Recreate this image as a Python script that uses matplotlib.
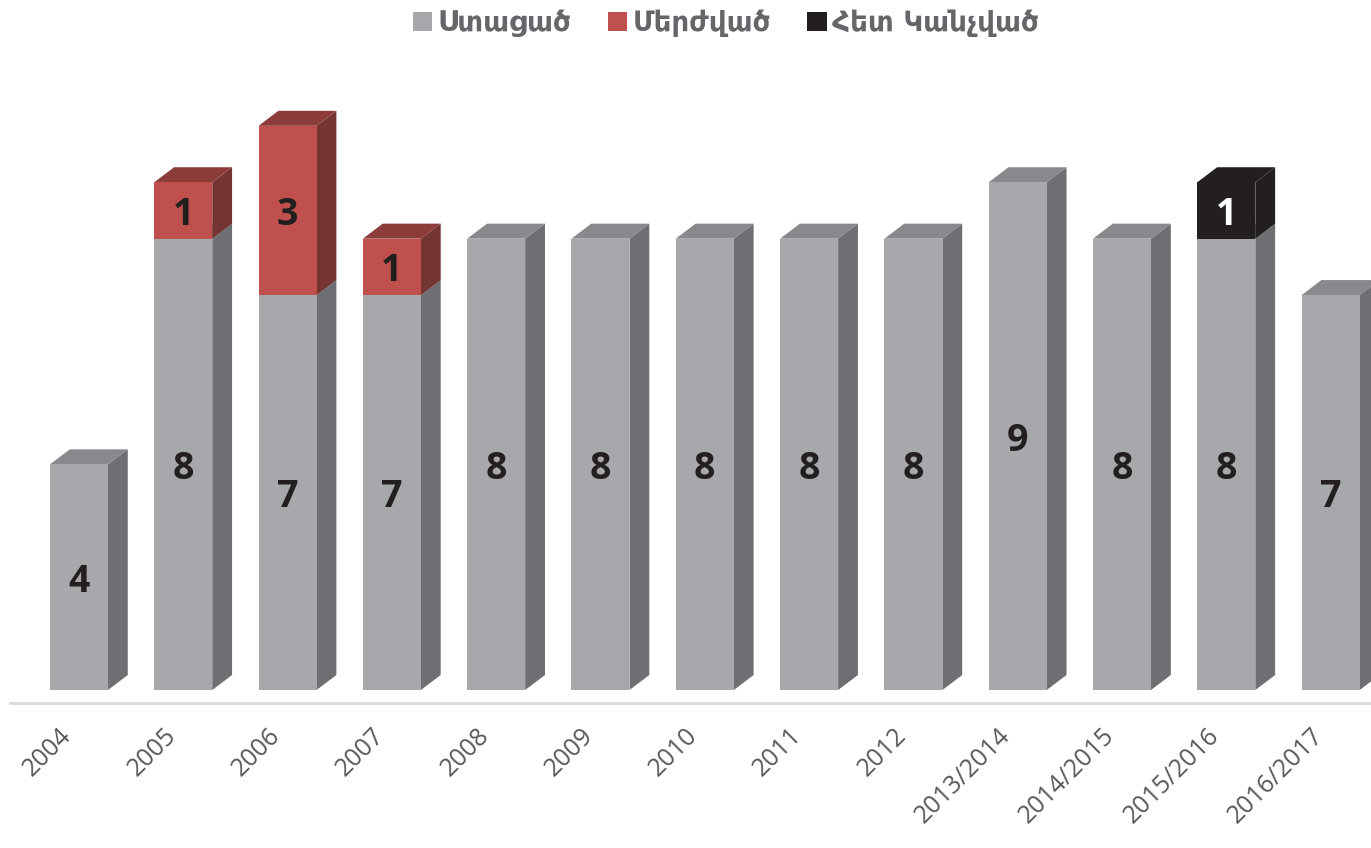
import matplotlib
matplotlib.use("Agg")
import matplotlib.pyplot as plt
import matplotlib.transforms as mtransforms
from matplotlib.patches import Polygon, Patch
import numpy as np

categories = ['2004', '2005', '2006', '2007', '2008', '2009', '2010', '2011', '2012',
              '2013/2014', '2014/2015', '2015/2016', '2016/2017']
received = [4, 8, 7, 7, 8, 8, 8, 8, 8, 9, 8, 8, 7]
rejected = [0, 1, 3, 1, 0, 0, 0, 0, 0, 0, 0, 0, 0]
withdrawn = [0, 0, 0, 0, 0, 0, 0, 0, 0, 0, 0, 1, 0]
series_names = ['Ստացած', 'Մերժված', 'Հետ Կանչված']

# front, side, top colours for each series
colors = [('#a7a8ac', '#6e6f73', '#88898d'),
          ('#c0504d', '#733432', '#8c3d3a'),
          ('#231f20', '#231f20', '#231f20')]
label_colors = ['#231f20', '#231f20', '#ffffff']

W = 0.556      # front face width
DX = 0.19      # depth in x
DY = 0.266     # depth in y

fig = plt.figure(figsize=(13.71, 8.48), dpi=100)
ax = fig.add_axes([0, (848 - 703) / 848, 1, 703 / 848])
ax.set_xlim(-0.757, 12.387)
ax.set_ylim(-0.23, 12.23)

x = np.arange(len(categories))
bottoms = np.zeros(len(categories))
for s, vals in enumerate([received, rejected, withdrawn]):
    vals = np.array(vals, dtype=float)
    front, side, top = colors[s]
    ax.bar(x, vals, width=W, bottom=bottoms, color=front, linewidth=0, zorder=3)
    for i in range(len(x)):
        if vals[i] == 0:
            continue
        b = bottoms[i]
        t = b + vals[i]
        r = x[i] + W / 2
        l = x[i] - W / 2
        ax.add_patch(Polygon([(r, b), (r + DX, b + DY), (r + DX, t + DY), (r, t)],
                             closed=True, facecolor=side, linewidth=0, zorder=2))
        ax.add_patch(Polygon([(l, t), (l + DX, t + DY), (r + DX, t + DY), (r, t)],
                             closed=True, facecolor=top, linewidth=0, zorder=2))
        ax.text(x[i], b + vals[i] / 2, str(int(vals[i])), ha='center',
                va='center_baseline', fontsize=27, fontweight='bold',
                color=label_colors[s], family=['Open Sans', 'DejaVu Sans'], zorder=5)
    bottoms += vals

for sp in ['top', 'left', 'right']:
    ax.spines[sp].set_visible(False)
ax.spines['bottom'].set_color('#d9d9d9')
ax.spines['bottom'].set_linewidth(2)
ax.spines['bottom'].set_bounds(-0.66, 12.39)
ax.set_yticks([])
ax.set_xticks(x)
ax.set_xticklabels(categories, rotation=45, ha='right', va='center',
                   rotation_mode='anchor', fontsize=18, color='#595959',
                   family=['Open Sans', 'DejaVu Sans'])
ax.tick_params(axis='x', length=0, pad=21)
offset = mtransforms.ScaledTranslation(-11 / 100, 0, fig.dpi_scale_trans)
for lbl in ax.get_xticklabels():
    lbl.set_transform(lbl.get_transform() + offset)

handles = [Patch(facecolor=c[0], edgecolor='none') for c in colors]
fig.legend(handles, series_names, loc='center', ncol=3,
           bbox_to_anchor=(726 / 1371, 1 - 23 / 848), frameon=False,
           prop={'family': 'DejaVu Sans', 'weight': 'bold', 'size': 20},
           labelcolor='#65666a', handlelength=0.7, handleheight=0.7,
           handletextpad=0.2, columnspacing=1.3)

fig.savefig('out.png', dpi=100)
